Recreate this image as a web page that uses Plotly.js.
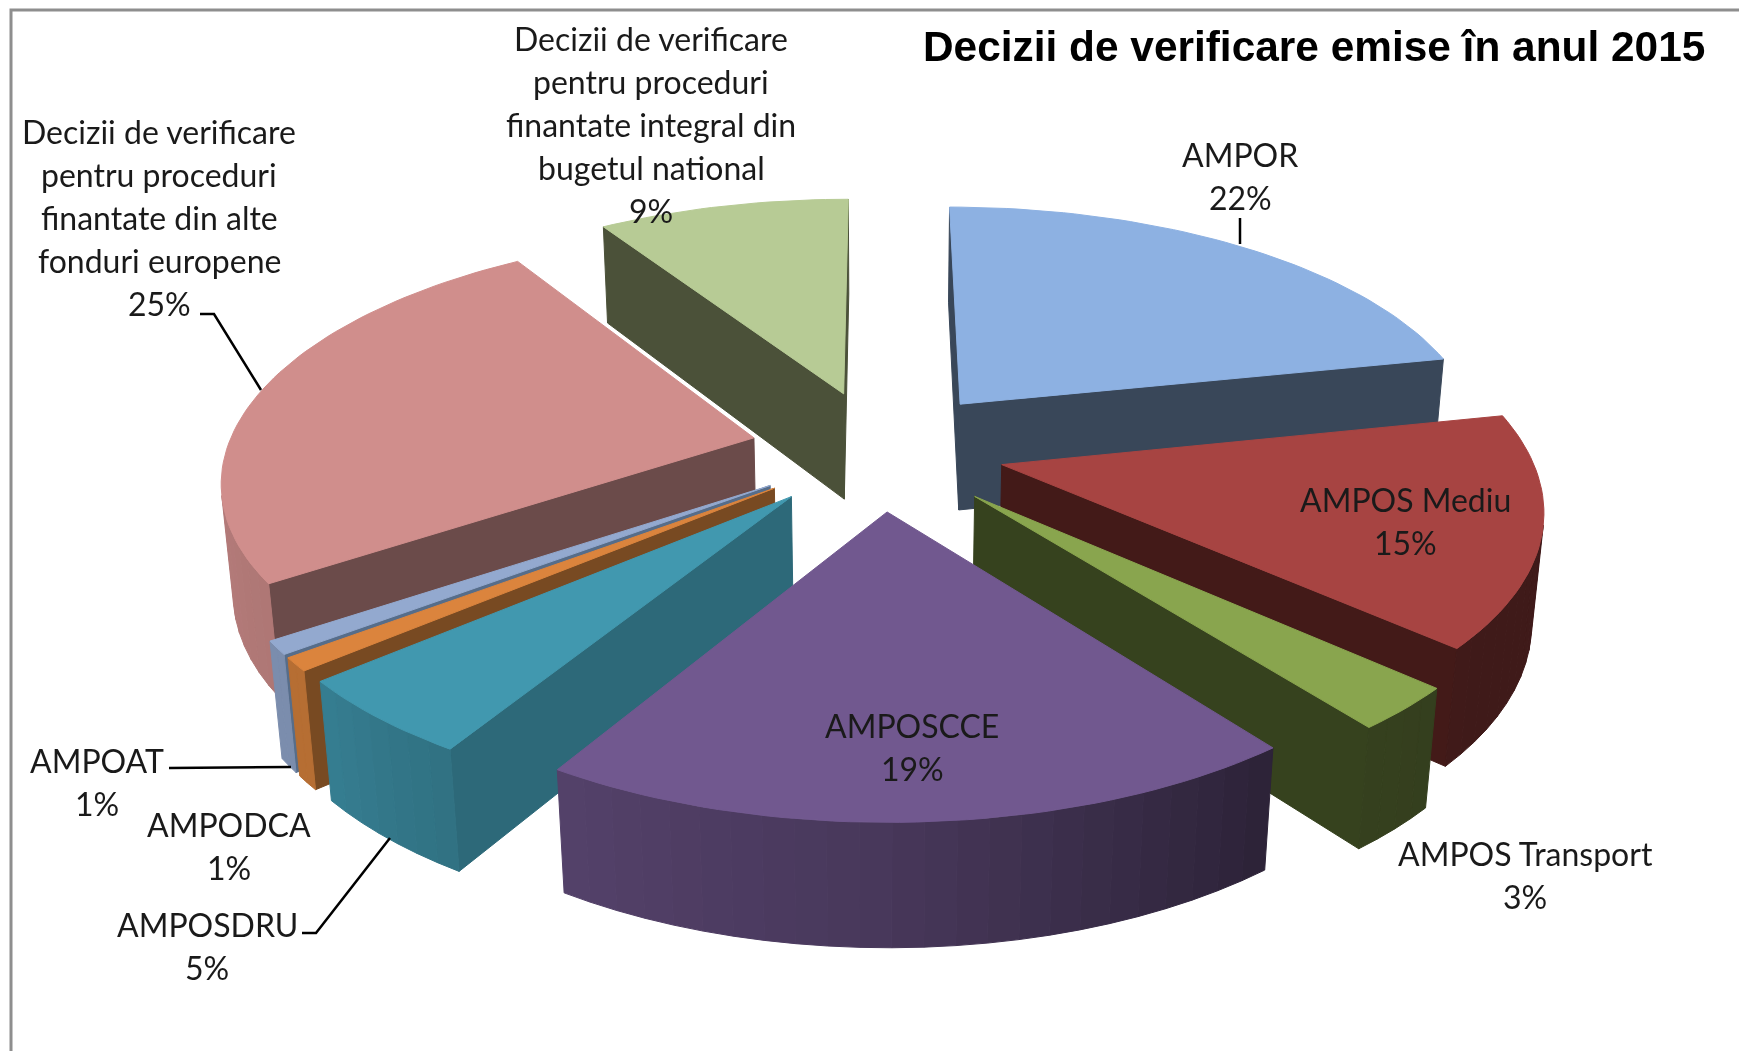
<!DOCTYPE html>
<html><head><meta charset="utf-8">
<script src="https://cdn.plot.ly/plotly-3.0.1.min.js"></script>
<style>html,body{margin:0;padding:0;background:#fff}#chart{width:1739px;height:1051px;filter:blur(.5px)}</style>
</head><body><div id="chart"></div>
<script>
// ---- data (labels show these rounded; slice angles give the decimals) ----
const categories = ["AMPOR","AMPOS Mediu","AMPOS Transport","AMPOSCCE","AMPOSDRU","AMPODCA","AMPOAT",
  "Decizii de verificare pentru proceduri finantate din alte fonduri europene",
  "Decizii de verificare pentru proceduri finantate integral din bugetul national"];
const values = [21.7,15.0,2.8,19.2,5.05,0.86,0.86,25.4,9.1];
const chartTitle = "Decizii de verificare emise în anul 2015";
// label wrapping, in slice order
const labelLines = [["AMPOR"],["AMPOS Mediu"],["AMPOS Transport"],["AMPOSCCE"],["AMPOSDRU"],["AMPODCA"],["AMPOAT"],
  ["Decizii de verificare","pentru proceduri","finantate din alte","fonduri europene"],
  ["Decizii de verificare","pentru proceduri","finantate integral din","bugetul national"]];
// ---- styles ----
const topColors  = ["#8DB1E2","#A74442","#89A54E","#71588F","#4198AF","#DB843D","#93A9CF","#D08E8C","#B7CB95"];
const wallColors = ["#394759","#431A18","#36421E","#3A2D4A","#2D6979","#784A22","#566D8A","#6B4B4A","#4B5139"];
const labelX = [1240,1405,1525,912,207,229,97,159,651];
const labelY = [154,499,853,725,924,824,760,131,38];
const labelPitch = 43;
const explosions = [.25,.238,.258,.25,.25,.25,.25,.245,.25];
// ---- projection of the pie ----
const cx=879.5, cy=449.5, R=527, Rq=240.6, persp=0.155, horizon=Rq/persp, thick=138, sink=0.018;
function project(X,Y,Z){
  const w=1+persp*Y+sink*Z;
  return [cx+R*X/w, cy-horizon+(horizon+thick*Z)/w];
}
// outer wall brightness by angle (deg clockwise from north)
const lightAngles=[0,130,143,180,211,230,270,360], lightLevels=[.35,.38,.39,.63,.74,.83,.88,.9];
function light(a){
  for(let i=1;i<lightAngles.length;i++) if(a<=lightAngles[i]){
    const t=(a-lightAngles[i-1])/(lightAngles[i]-lightAngles[i-1]);
    return lightLevels[i-1]+t*(lightLevels[i]-lightLevels[i-1]);
  }
  return .9;
}
function shade(hex,f){
  const n=parseInt(hex.slice(1),16);
  return `rgb(${Math.round((n>>16&255)*f)},${Math.round((n>>8&255)*f)},${Math.round((n&255)*f)})`;
}
const rad=d=>d*Math.PI/180;
const total=values.reduce((a,b)=>a+b,0);
let acc=0;
const slices=values.map((v,i)=>{
  const a0=acc/total*360; acc+=v; const a1=acc/total*360; const m=(a0+a1)/2;
  return {i,a0,a1,m,ox:explosions[i]*Math.sin(rad(m)),oy:explosions[i]*Math.cos(rad(m))};
});
function poly(pts,color,name){
  const c=[...pts,pts[0]];
  return {type:"scatter",mode:"lines",x:c.map(p=>p[0]),y:c.map(p=>p[1]),fill:"toself",fillcolor:color,
    line:{color:color,width:1},name:name,hoverinfo:"name",showlegend:false};
}
function signedArea(p){let s=0;for(let k=0;k<p.length;k++){const q=p[(k+1)%p.length];s+=p[k][0]*q[1]-q[0]*p[k][1];}return s/2;}
const traces=[];
// painter's order: far slices first
[...slices].sort((a,b)=>Math.cos(rad(b.m))-Math.cos(rad(a.m))).forEach(s=>{
  const name=categories[s.i]+": "+Math.round(values[s.i])+"%";
  const rim=(a,Z)=>project(s.ox+Math.sin(rad(a)),s.oy+Math.cos(rad(a)),Z);
  const apex=Z=>project(s.ox,s.oy,Z);
  // radial walls, culled when facing away
  [[s.a0,1],[s.a1,-1]].forEach(([a,dir])=>{
    const q=[apex(0),rim(a,0),rim(a,1),apex(1)];
    if(signedArea(q)*dir<0) traces.push(poly(q,wallColors[s.i],name));
  });
  // outer wall, in narrow shaded bands
  const n=Math.max(2,Math.ceil((s.a1-s.a0)/3));
  for(let k=0;k<n;k++){
    const a=s.a0+(s.a1-s.a0)*k/n, b=s.a0+(s.a1-s.a0)*(k+1)/n;
    const q=[rim(a,0),rim(b,0),rim(b,1),rim(a,1)];
    if(signedArea(q)<0) traces.push(poly(q,shade(topColors[s.i],light((a+b)/2)),name));
  }
  // top face
  const top=[apex(0)];
  const m=Math.ceil((s.a1-s.a0)/1.5);
  for(let k=0;k<=m;k++) top.push(rim(s.a0+(s.a1-s.a0)*k/m,0));
  traces.push(poly(top,topColors[s.i],name));
});
// leader lines
const leaders=[[[1240,218],[1240,244]],[[200,314],[214,314],[261,390]],[[169,768],[291,767]],[[302,933],[316,933],[390,838]]];
leaders.forEach(l=>traces.push({type:"scatter",mode:"lines",x:l.map(p=>p[0]),y:l.map(p=>p[1]),
  line:{color:"#000",width:2.5},hoverinfo:"skip",showlegend:false}));
// frame
traces.push({type:"scatter",mode:"lines",x:[11,11,1739],y:[1051,10,10],line:{color:"#8E8E8E",width:3},hoverinfo:"skip",showlegend:false});
const annotations=[];
labelLines.forEach((lines,i)=>{
  [...lines,Math.round(values[i])+"%"].forEach((t,k)=>annotations.push({xref:"x",yref:"y",x:labelX[i],y:labelY[i]+k*labelPitch,text:t,
    showarrow:false,xanchor:"center",yanchor:"middle",font:{family:"Lato, Carlito, sans-serif",size:32,color:"#1a1a1a"}}));
});
annotations.push({xref:"x",yref:"y",x:1314,y:46,text:"<b>"+chartTitle+"</b>",showarrow:false,xanchor:"center",yanchor:"middle",
  font:{family:"Liberation Sans, Arial, sans-serif",size:42.4,color:"#000"}});
Plotly.newPlot("chart",traces,{width:1739,height:1051,margin:{l:0,r:0,t:0,b:0},paper_bgcolor:"#fff",plot_bgcolor:"#fff",
  showlegend:false,hovermode:"closest",
  xaxis:{range:[0,1739],visible:false,fixedrange:true},yaxis:{range:[1051,0],visible:false,fixedrange:true},
  annotations:annotations},{displayModeBar:false,staticPlot:false});
</script></body></html>
